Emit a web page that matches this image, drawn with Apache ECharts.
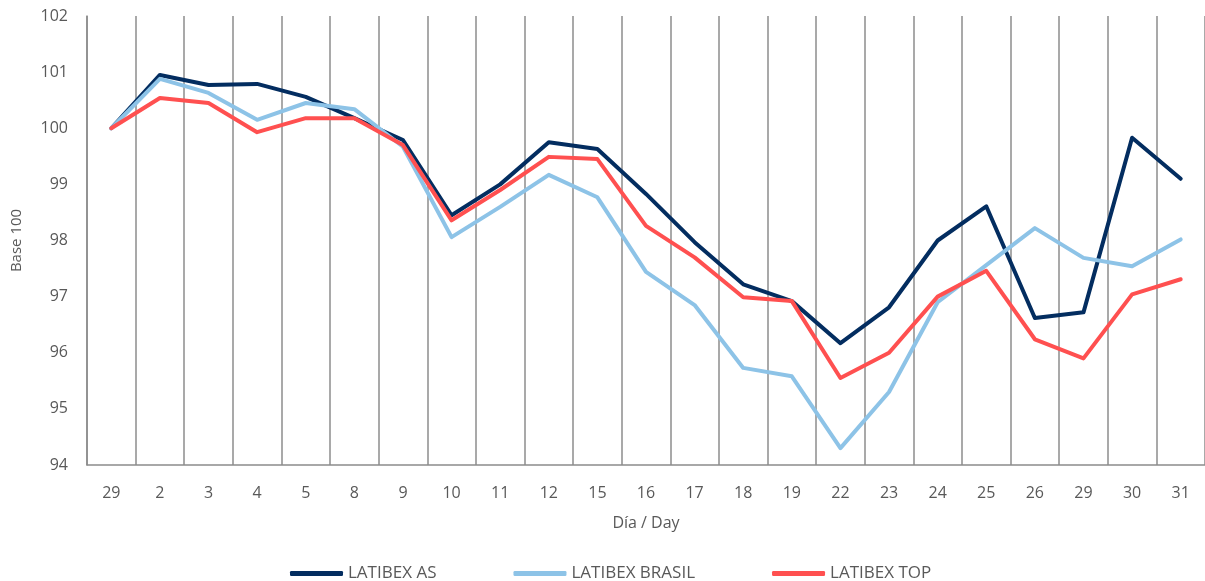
<!DOCTYPE html>
<html>
<head>
<meta charset="utf-8">
<script src="https://cdn.jsdelivr.net/npm/echarts@6/dist/echarts.min.js"></script>
<style>html,body{margin:0;padding:0;background:#fff}#c{width:1205px;height:581px}</style>
</head>
<body>
<div id="c"></div>
<script>
const categories = ['29','2','3','4','5','8','9','10','11','12','15','16','17','18','19','22','23','24','25','26','29','30','31'];
const latibexAS = [100, 100.95, 100.77, 100.79, 100.56, 100.18, 99.79, 98.45, 99.0, 99.75, 99.63, 98.83, 97.97, 97.22, 96.92, 96.17, 96.81, 98.0, 98.61, 96.62, 96.72, 99.83, 99.1];
const latibexBrasil = [100, 100.88, 100.63, 100.15, 100.45, 100.34, 99.67, 98.06, 98.6, 99.17, 98.77, 97.44, 96.85, 95.73, 95.58, 94.3, 95.3, 96.9, 97.56, 98.22, 97.69, 97.54, 98.02];
const latibexTop = [100, 100.54, 100.45, 99.93, 100.18, 100.18, 99.7, 98.36, 98.9, 99.49, 99.45, 98.26, 97.7, 96.99, 96.92, 95.55, 96.0, 97.0, 97.46, 96.24, 95.9, 97.04, 97.31];
const seriesNames = ['LATIBEX AS', 'LATIBEX BRASIL', 'LATIBEX TOP'];
const colors = ['#032D60', '#8DC3E7', '#FF5050'];

const font = "'Open Sans', 'Liberation Sans', sans-serif";
const chart = echarts.init(document.getElementById('c'));
const mk = (name, data, color) => ({
  name, type: 'line', data, symbol: 'none', smooth: false,
  lineStyle: { color, width: 4, join: 'round', cap: 'round' },
  itemStyle: { color }
});
chart.setOption({
  animation: false,
  backgroundColor: '#fff',
  color: colors,
  grid: { left: 87, right: 0, top: 16, bottom: 116, containLabel: false },
  legend: {
    data: seriesNames,
    left: 285, top: 560,
    icon: 'roundRect', itemWidth: 53, itemHeight: 5, itemGap: 77,
    textStyle: { color: '#595959', fontSize: 17, fontFamily: font }
  },
  xAxis: {
    type: 'category', data: categories, boundaryGap: true,
    name: 'Día / Day', nameLocation: 'middle', nameGap: 50,
    nameTextStyle: { color: '#595959', fontSize: 16, fontFamily: font },
    axisLine: { show: true, lineStyle: { color: '#8c8c8c', width: 1.5 } },
    axisTick: { show: false },
    axisLabel: { color: '#595959', fontSize: 16, fontFamily: font, margin: 20, interval: 0 },
    splitLine: { show: true, lineStyle: { color: '#8c8c8c', width: 1.5 } }
  },
  yAxis: {
    type: 'value', min: 94, max: 102, interval: 1,
    name: 'Base 100', nameLocation: 'middle', nameGap: 63, nameRotate: 90,
    nameTextStyle: { color: '#595959', fontSize: 15, fontFamily: font },
    axisLine: { show: true, lineStyle: { color: '#8c8c8c', width: 1.5 } },
    axisTick: { show: false },
    axisLabel: { color: '#595959', fontSize: 16, fontFamily: font, margin: 19 },
    splitLine: { show: false }
  },
  series: [
    mk(seriesNames[0], latibexAS, colors[0]),
    mk(seriesNames[1], latibexBrasil, colors[1]),
    mk(seriesNames[2], latibexTop, colors[2])
  ]
});
</script>
</body>
</html>
